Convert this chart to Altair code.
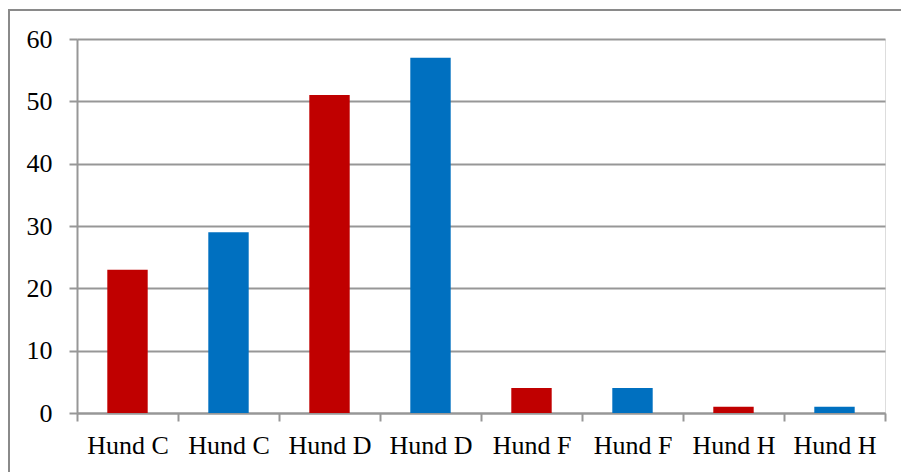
import altair as alt
import pandas as pd

# Dogs and counts, two series per dog (red / blue)
keys = ["Hund C|1", "Hund C|2", "Hund D|1", "Hund D|2",
        "Hund F|1", "Hund F|2", "Hund H|1", "Hund H|2"]
series = ["A", "B", "A", "B", "A", "B", "A", "B"]
values = [23, 29, 51, 57, 4, 4, 1, 1]
colors = ["#C00000", "#0070C0"]

df = pd.DataFrame({"key": keys, "serie": series, "value": values})

W, H = 808, 374
GRAY = "#979797"
FONT = "Liberation Serif"

bars = alt.Chart(df).mark_bar(width=alt.RelativeBandSize(0.4)).encode(
    x=alt.X(
        "key:N",
        sort=keys,
        scale=alt.Scale(paddingInner=0, paddingOuter=0),
        axis=alt.Axis(
            title=None,
            labelAngle=0,
            tickBand="extent",
            labelExpr="isValid(datum.value) ? split(datum.value, '|')[0] : ''",
            labelFont=FONT,
            labelFontSize=26,
            labelColor="black",
            labelBaseline="alphabetic",
            labelPadding=32,
            tickSize=8,
            tickColor=GRAY,
            tickWidth=2,
            domainColor=GRAY,
            domainWidth=2,
            grid=False,
        ),
    ),
    y=alt.Y(
        "value:Q",
        scale=alt.Scale(domain=[0, 60], nice=False),
        axis=alt.Axis(
            title=None,
            values=[0, 10, 20, 30, 40, 50, 60],
            labelFont=FONT,
            labelFontSize=26,
            labelColor="black",
            labelPadding=17,
            tickSize=8,
            tickColor=GRAY,
            tickWidth=2,
            domainColor=GRAY,
            domainWidth=2,
            grid=True,
            gridColor=GRAY,
            gridWidth=2,
        ),
    ),
    color=alt.Color("serie:N", scale=alt.Scale(domain=["A", "B"], range=colors), legend=None),
)

# Outer frame around the whole chart
frame = alt.Chart(df).mark_rect(fill=None, stroke="#8a8a8a", strokeWidth=2).encode(
    x=alt.value(-68), x2=alt.value(W + 17),
    y=alt.value(-29), y2=alt.value(H + 70),
)

chart = alt.layer(bars, frame).properties(
    width=W, height=H,
    autosize=alt.AutoSizeParams(type="none"),
    padding={"left": 77, "top": 39, "right": 16, "bottom": 59},
).configure_view(strokeWidth=0).configure(background="white")

chart.save("out.html", embed_options={"renderer": "svg", "actions": False})
